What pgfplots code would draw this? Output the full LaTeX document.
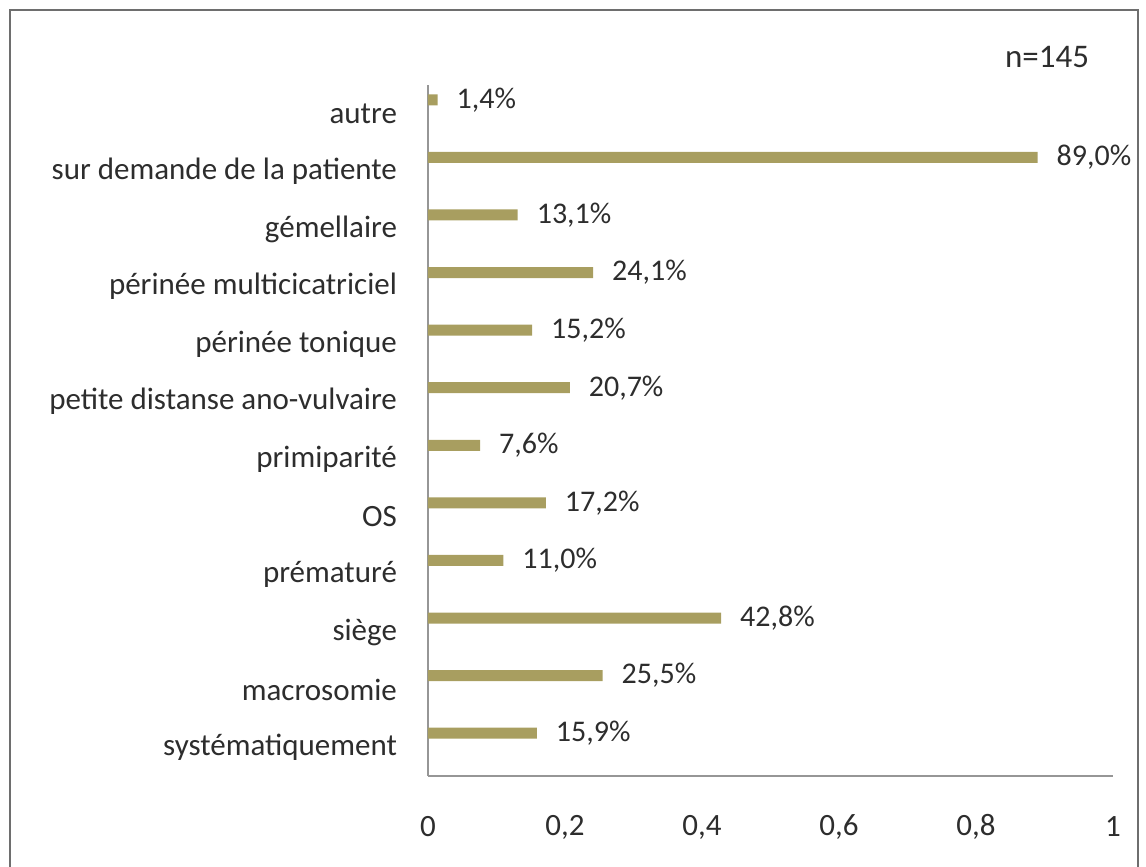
\documentclass[border=0pt]{standalone}
\usepackage{fontspec}
\setmainfont{Carlito}
\usepackage{pgfplots}
\pgfplotsset{compat=1.18}
\definecolor{barolive}{RGB}{168,158,96}
\definecolor{txt}{RGB}{45,45,45}
\definecolor{axgray}{RGB}{150,150,150}
\definecolor{framegray}{RGB}{110,110,110}

\begin{document}
\begin{tikzpicture}
% page = 1146 x 867 px at 0.5pt per px, top left corner at (0,0)
\path[use as bounding box] (0,0) rectangle (573pt,-433.5pt);
\draw[framegray, line width=1pt] (5pt,-433.5pt) -- (5pt,-5pt) -- (569pt,-5pt) -- (569pt,-433.5pt);
\begin{axis}[
  at={(214pt,-388pt)}, anchor=south west,
  scale only axis, width=342.5pt, height=345.5pt,
  xbar, bar width=5.5pt, bar shift=7pt,
  xmin=0, xmax=1, ymin=-0.5, ymax=11.5,
  xtick={0,0.2,0.4,0.6,0.8,1},
  ytick={0,...,11},
  yticklabels={syst\'ematiquement, macrosomie, si\`ege, pr\'ematur\'e, OS, primiparit\'e,
    petite distanse ano-vulvaire, p\'erin\'ee tonique, p\'erin\'ee multicicatriciel,
    g\'emellaire, sur demande de la patiente, autre},
  axis x line=bottom, axis y line=left,
  axis line style={-, axgray, line width=0.6pt},
  major tick length=0pt,
  tick label style={font=\fontsize{15.5}{18}\selectfont, text=txt},
  xticklabel style={anchor=center, yshift=-25.5pt,
    /pgf/number format/.cd, use comma, assume math mode=true},
  yticklabel style={anchor=east, xshift=-12pt},
  point meta={x*100},
  nodes near coords={\pgfmathprintnumber[fixed,fixed zerofill,precision=1,use comma,assume math mode=true]{\pgfplotspointmeta}\%},
  nodes near coords style={anchor=west, xshift=6pt, font=\fontsize{15}{18}\selectfont, text=txt},
  clip=false,
]
\addplot[fill=barolive, draw=none] coordinates {
  (0.159,0) (0.255,1) (0.428,2) (0.110,3) (0.172,4) (0.076,5)
  (0.207,6) (0.152,7) (0.241,8) (0.131,9) (0.890,10) (0.014,11)};
\end{axis}
\node[text=txt, font=\fontsize{16.5}{19}\selectfont] at (523.5pt,-28.5pt) {n=145};
\end{tikzpicture}
\end{document}
